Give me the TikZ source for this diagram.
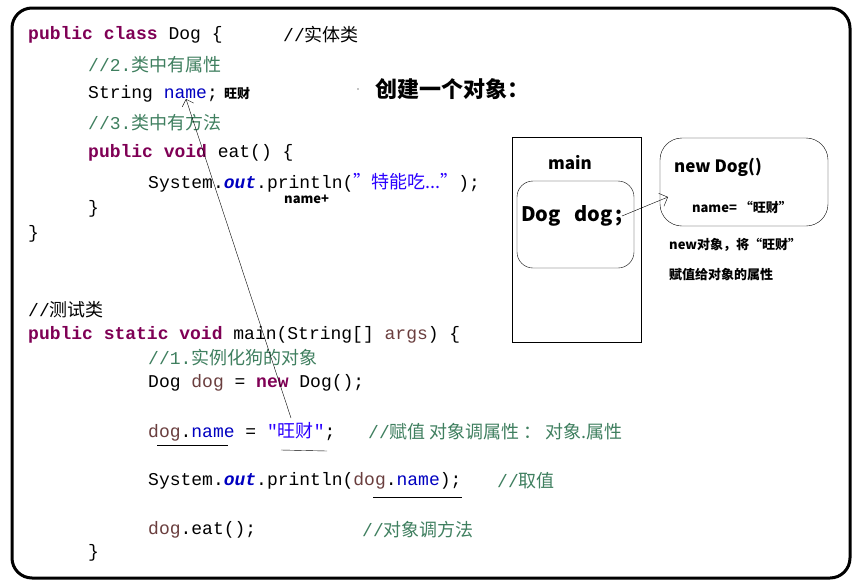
\documentclass[tikz,border=0pt]{standalone}
\usepackage{fontspec}
\setmainfont{Noto Sans CJK SC}
\setmonofont{Liberation Mono}
\newfontfamily\cjk{Noto Sans CJK SC}
\usetikzlibrary{arrows.meta}
\definecolor{kwcol}{RGB}{127,0,85}
\definecolor{cmcol}{RGB}{63,127,95}
\definecolor{stcol}{RGB}{42,0,255}
\definecolor{fdcol}{RGB}{0,0,192}
\definecolor{lvcol}{RGB}{106,62,62}
\newcommand{\zh}[1]{{\cjk #1}}
\newcommand{\kw}[1]{\textcolor{kwcol}{\textbf{#1}}}

\begin{document}
\begin{tikzpicture}[x=1pt, y=-1pt, font=\ttfamily\fontsize{18}{18}\selectfont,
  code/.style={anchor=west, inner sep=0pt},
  note/.style={font=\cjk\bfseries\fontsize{13}{13}\selectfont, inner sep=0pt},
  big/.style={font=\cjk\bfseries\fontsize{20}{20}\selectfont, inner sep=0pt}]
    \useasboundingbox (0,0) rectangle (855,587);
    \draw[line width=3pt, rounded corners=20pt] (12,8) rectangle (850,578);
    % class
    \node[code] (l1) at (28,35) {\kw{public class} Dog \{};
    \node[code] (c1) at (283,35) {//\zh{实体类}};
    \node[code, cmcol] (l2) at (88,65) {//2.\zh{类中有属性}};
    \node[code] (l3) at (88,94) {String \textcolor{fdcol}{name};};
    \node[note, anchor=west] (wc) at (224,94) {旺财};
    \node[code, cmcol] (l4) at (88,123) {//3.\zh{类中有方法}};
    \node[code] (l5) at (88,153) {\kw{public void} eat() \{};
    \node[code] (l6) at (148,183) {System.\textcolor{fdcol}{\textbf{\textit{out}}}.println(\textcolor{stcol}{\zh{”特能吃...”}});};
    \node[note, anchor=west] (np) at (284,199) {name+};
    \node[code] (l7) at (88,209) {\}};
    \node[code] (l8) at (28,234) {\}};
    % main
    \node[code] (m1) at (28,310) {//\zh{测试类}};
    \node[code] (m2) at (28,335) {\kw{public static void} main(String[] \textcolor{lvcol}{args}) \{};
    \node[code, cmcol] (m3) at (148,358) {//1.\zh{实例化狗的对象}};
    \node[code] (m4) at (148,383) {Dog \textcolor{lvcol}{dog} = \kw{new} Dog();};
    \node[code] (m5) at (148,432) {\textcolor{lvcol}{dog}.\textcolor{fdcol}{name} = \textcolor{stcol}{"\zh{旺财}"};};
    \node[code, cmcol] (m5c) at (368,432) {//\zh{赋值 对象调属性 ： 对象.属性}};
    \node[code] (m6) at (148,481) {System.\textcolor{fdcol}{\textbf{\textit{out}}}.println(\textcolor{lvcol}{dog}.\textcolor{fdcol}{name});};
    \node[code, cmcol] (m6c) at (497,481) {//\zh{取值}};
    \node[code] (m7) at (148,530) {\textcolor{lvcol}{dog}.eat();};
    \node[code, cmcol] (m7c) at (362,530) {//\zh{对象调方法}};
    \node[code] (m8) at (88,553) {\}};
    % underlines
    \draw (157,445) -- (228,445);
    \draw (281,450) -- (327,451);
    \draw (373,497) -- (462,497);
    \coordinate (vstart) at (291,418);
    \coordinate (vend) at (186,99);
    \draw[-{Straight Barb[length=6pt]}] (vstart) -- (vend);
    % memory
    \node[big, font=\cjk\bfseries\fontsize{22}{22}\selectfont] (title) at (452,89) {创建一个对象：};
    \fill (358,89) circle (0.7pt);
    \draw (512,137) rectangle (641,342);
    \node[note, font=\cjk\bfseries\fontsize{17}{17}\selectfont] (main) at (570,163) {main};
    \draw[rounded corners=16pt] (517,181) rectangle (634,268);
    \node[big] (dd) at (572,216) {Dog\ \ \ dog\,;};
    \draw[rounded corners=22pt] (660,138) rectangle (828,226);
    \node[note, font=\cjk\bfseries\fontsize{17}{17}\selectfont] (nd) at (718,167) {new Dog()};
    \node[note] (nm) at (742,207) {name= “旺财”};
    \coordinate (ref) at (622,216);
    \coordinate (obj) at (668,197);
    \draw[-{Straight Barb[length=7pt]}] (ref) -- (obj);
    \node[note, anchor=west] (t1) at (669,245) {new对象，将“旺财”};
    \node[note, anchor=west] (t2) at (669,275) {赋值给对象的属性};
\end{tikzpicture}
\end{document}
